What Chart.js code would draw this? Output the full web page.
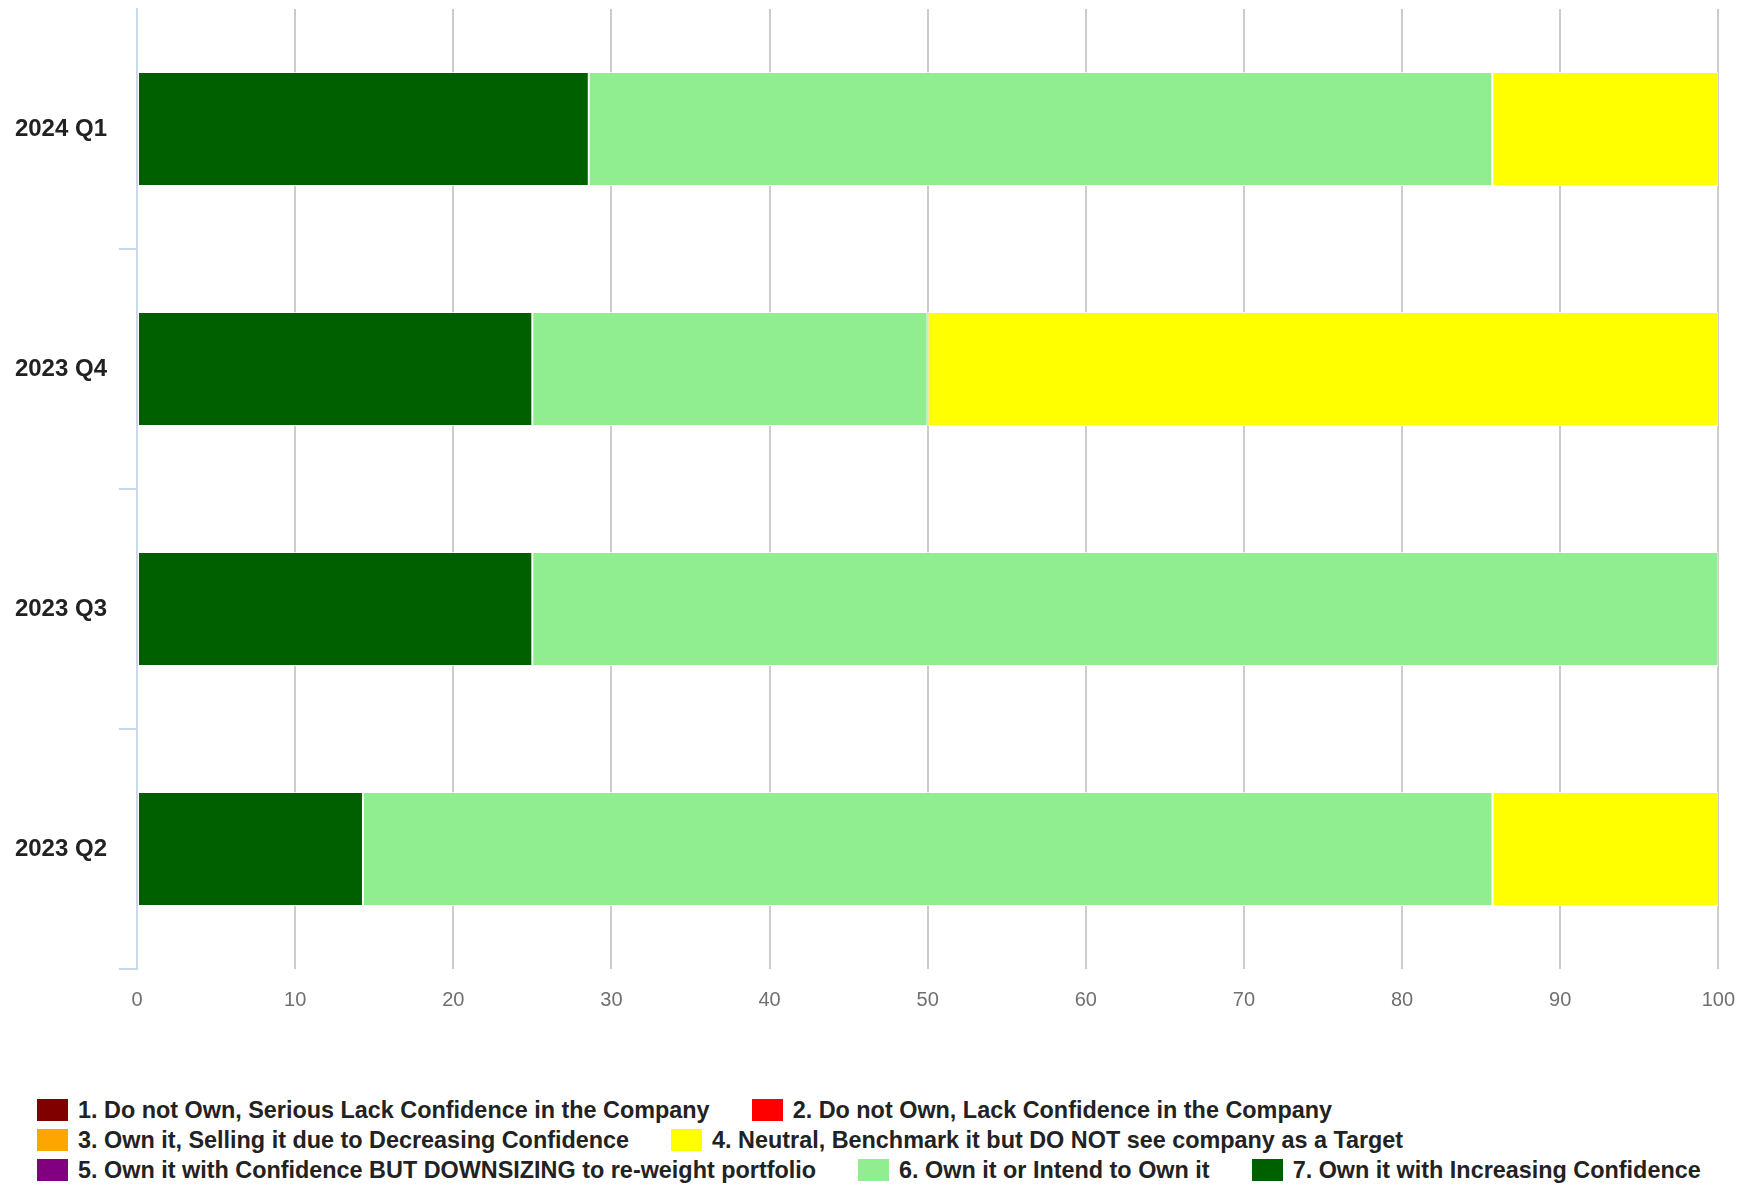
<!DOCTYPE html>
<html>
<head>
<meta charset="utf-8">
<script src="https://cdn.jsdelivr.net/npm/chart.js@4/dist/chart.umd.min.js"></script>
<style>
  html, body { margin: 0; padding: 0; background: #ffffff; }
  body { width: 1754px; height: 1186px; position: relative; overflow: hidden; }
  #wrap { position: absolute; left: 0; top: 0; width: 1754px; height: 1031px; }
  #legend {
    position: absolute; left: 37px; top: 1095px; width: 1690px;
    display: flex; flex-wrap: wrap; column-gap: 42px;
    font-family: "Liberation Sans", Arial, sans-serif; font-weight: bold;
    font-size: 23.4px; color: #222222;
  }
  .item { display: flex; align-items: center; height: 30px; white-space: nowrap; }
  .swatch { width: 31px; height: 22px; margin-right: 10px; flex: none; }
</style>
</head>
<body>
<div id="wrap"><canvas id="chart"></canvas></div>
<div id="legend"></div>
<script>
// Survey periods, top to bottom
const quarters = ['2024 Q1', '2023 Q4', '2023 Q3', '2023 Q2'];

// Response categories (legend order) and their colours
const responseLabels = [
  '1. Do not Own, Serious Lack Confidence in the Company',
  '2. Do not Own, Lack Confidence in the Company',
  '3. Own it, Selling it due to Decreasing Confidence',
  '4. Neutral, Benchmark it but DO NOT see company as a Target',
  '5. Own it with Confidence BUT DOWNSIZING to re-weight portfolio',
  '6. Own it or Intend to Own it',
  '7. Own it with Increasing Confidence'
];
const responseColors = ['#800000', '#ff0000', '#ffa500', '#ffff00', '#800080', '#90ee90', '#006000'];

// Share of responses (%) per quarter, one array per category
const seriousLack = [0, 0, 0, 0];
const lackConfidence = [0, 0, 0, 0];
const selling = [0, 0, 0, 0];
const neutral = [14.29, 50, 0, 14.29];
const downsizing = [0, 0, 0, 0];
const ownOrIntend = [57.14, 25, 75, 71.43];
const increasing = [28.57, 25, 25, 14.29];

// x-axis ticks
const xTicks = [0, 10, 20, 30, 40, 50, 60, 70, 80, 90, 100];

const seriesValues = [seriousLack, lackConfidence, selling, neutral, downsizing, ownOrIntend, increasing];

// Category 7 stacks from the axis outward, so the datasets go in reverse order
const datasets = seriesValues.map((vals, i) => ({
  label: responseLabels[i],
  data: vals,
  backgroundColor: responseColors[i],
  borderColor: 'rgba(255,255,255,0.75)',
  borderWidth: 1,
  borderSkipped: false,
  categoryPercentage: 1.0,
  barPercentage: 0.476
})).reverse();

const gridBlue = '#c9d9ea';

new Chart(document.getElementById('chart'), {
  type: 'bar',
  data: { labels: quarters, datasets },
  options: {
    indexAxis: 'y',
    responsive: true,
    maintainAspectRatio: false,
    animation: false,
    layout: { padding: { top: 9, right: 32, bottom: 0, left: 0 } },
    plugins: { legend: { display: false }, tooltip: { enabled: false } },
    scales: {
      x: {
        stacked: true,
        min: 0,
        max: 100,
        afterBuildTicks: (scale) => { scale.ticks = xTicks.map(v => ({ value: v })); },
        grid: {
          drawTicks: false,
          lineWidth: 2,
          color: (ctx) => (ctx.tick && ctx.tick.value === 0) ? 'rgba(0,0,0,0)' : '#cccccc'
        },
        border: { display: false },
        ticks: {
          padding: 19,
          color: '#707070',
          font: { family: '"Liberation Sans", Arial, sans-serif', size: 20 }
        }
      },
      y: {
        stacked: true,
        afterFit: (scale) => {
          scale.width = 137;
          scale.paddingTop = 0;
          scale.paddingBottom = 0;
        },
        grid: {
          offset: true,
          drawOnChartArea: false,
          tickLength: 18,
          lineWidth: 2,
          color: (ctx) => ctx.index === 0 ? 'rgba(0,0,0,0)' : gridBlue
        },
        border: { display: true, color: gridBlue, width: 2 },
        ticks: {
          padding: 12,
          color: '#222222',
          font: { family: '"Liberation Sans", Arial, sans-serif', size: 24, weight: 'bold' }
        }
      }
    }
  }
});

// Legend in category order
const legend = document.getElementById('legend');
responseLabels.forEach((text, i) => {
  const item = document.createElement('div');
  item.className = 'item';
  const sw = document.createElement('span');
  sw.className = 'swatch';
  sw.style.background = responseColors[i];
  const label = document.createElement('span');
  label.textContent = text;
  item.appendChild(sw);
  item.appendChild(label);
  legend.appendChild(item);
});
</script>
</body>
</html>
